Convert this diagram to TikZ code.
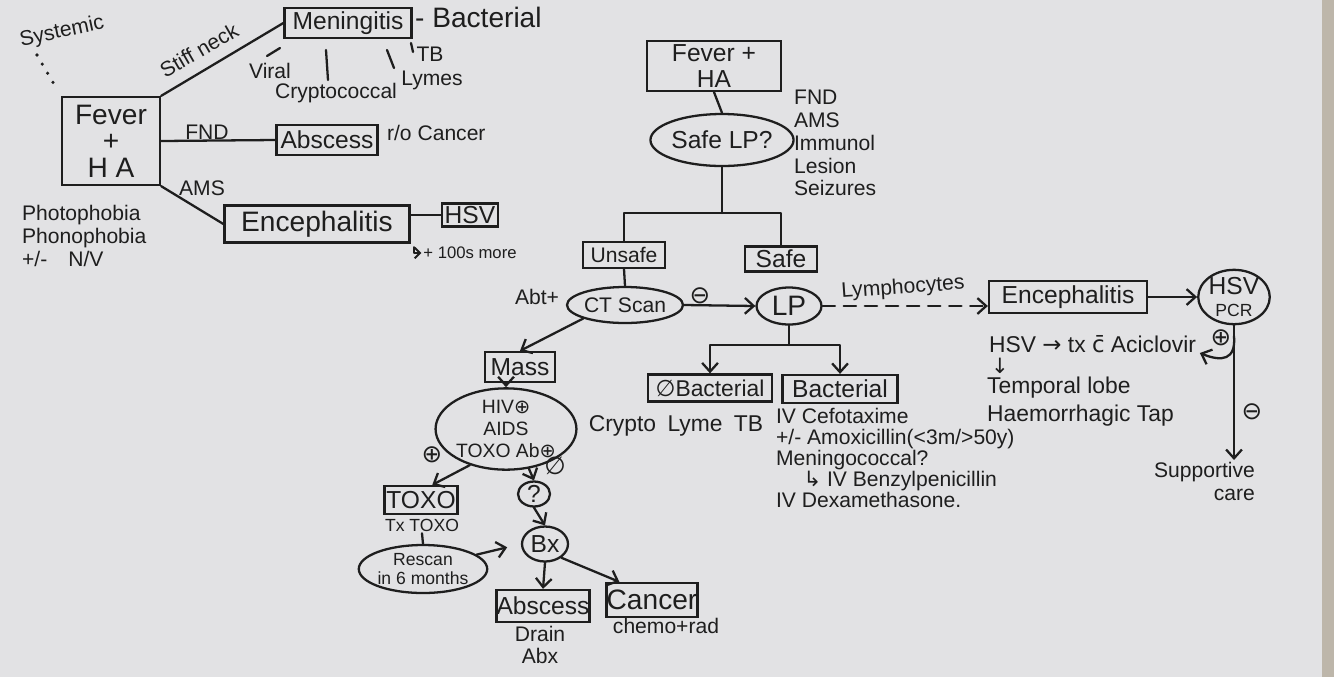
\documentclass[tikz,border=0pt]{standalone}
\usepackage{fontspec}
\setmainfont{Liberation Sans}
\newfontfamily\sym{DejaVu Sans}
\usetikzlibrary{shapes.geometric,arrows.meta,calc}
\definecolor{board}{HTML}{E2E2E4}
\definecolor{ink}{HTML}{1E1E1E}
\definecolor{edgestrip}{HTML}{BDB6AA}
\begin{document}
\begin{tikzpicture}[x=0.02cm,y=-0.02cm,
  every node/.style={text=ink, inner sep=1pt},
  ln/.style={draw=ink, line width=1.3pt, line cap=round, line join=round},
  arr/.style={ln, -{Straight Barb[length=5pt,width=9pt,line width=1.3pt]}},
  smallarr/.style={ln, -{Straight Barb[length=3pt,width=6pt,line width=1.1pt]}},
  boxn/.style={draw=ink, line width=1.3pt, rectangle, inner sep=0pt, align=center},
  ovaln/.style={draw=ink, line width=1.3pt, ellipse, inner sep=0pt, align=center},
  fbig/.style={font=\fontsize{16}{15}\selectfont},
  fmid/.style={font=\fontsize{14}{15}\selectfont},
  fsm/.style={font=\fontsize{12}{13}\selectfont},
  fxs/.style={font=\fontsize{10}{11}\selectfont},
]
\useasboundingbox (0,0) rectangle (1334,677);
\fill[board] (0,0) rectangle (1334,677);
\fill[edgestrip] (1322,0) rectangle (1334,677);

% ---------------- left mind map ----------------
\node[boxn,fbig,minimum width=1.96cm,minimum height=1.76cm] (feverL) at (111,141) {Fever\\+\\H A};
\node[fsm,rotate=12] (systemic) at (62,32) {Systemic};
\coordinate (d1) at (37,55);
\draw[ln, line width=2pt, dash pattern=on 0pt off 6pt, shorten >=6pt] (d1) -- (feverL.north west);

\node[boxn,fmid,minimum width=2.54cm,minimum height=0.6cm] (mening) at (348,23) {Meningitis};
\node[fbig,anchor=west] (bactL) at (413,17) {- Bacterial};
\draw[ln] (feverL.north east) -- (mening.west);
\node[fsm,rotate=30,inner sep=0pt] (stiff) at (199,50) {Stiff neck};

\node[fsm] (viral) at (270,71) {Viral};
\node[fsm] (crypto) at (336,93) {Cryptococcal};
\node[fsm] (lymes) at (432,80) {Lymes};
\node[fsm] (tb) at (430,54) {TB};
\coordinate (s1a) at (267,56); \coordinate (s1b) at (280,48);
\coordinate (s2a) at (326,50); \coordinate (s2b) at (328,80);
\coordinate (s3a) at (387,50); \coordinate (s3b) at (394,68);
\coordinate (s4a) at (411,43); \coordinate (s4b) at (413,52);
\draw[ln] (s1a) -- (s1b);
\draw[ln] (s2a) -- (s2b);
\draw[ln] (s3a) -- (s3b);
\draw[ln] (s4a) -- (s4b);

\node[boxn,fmid,minimum width=2.02cm,minimum height=0.6cm] (abscL) at (327,140) {Abscess};
\node[fsm,anchor=west] (roc) at (385,133) {r/o Cancer};
\node[fsm] (fnd) at (207,132) {FND};
\draw[ln] (feverL.east) -- (abscL.west);

\node[boxn,fbig,minimum width=3.7cm,minimum height=0.74cm] (encL) at (317,224) {Encephalitis};
\node[boxn,fmid,minimum width=1.12cm,minimum height=0.46cm] (hsvL) at (470,215) {HSV};
\node[fsm] (ams) at (202,188) {AMS};
\draw[ln] (feverL.south east) -- (encL.west);
\draw[ln] (encL.east |- hsvL.west) -- (hsvL.west);
\node[font=\fontsize{9.5}{10}\selectfont] (more) at (470,253) {+ 100s more};
\draw[smallarr] ([xshift=2pt,yshift=-2pt]encL.south east) |- (more.west);

\node[fsm,anchor=north west,align=left] (phot) at (20,203) {Photophobia\\Phonophobia\\+/-\quad N/V};

% ---------------- right algorithm ----------------
\node[boxn,fmid,minimum width=2.68cm,minimum height=1.0cm] (feverR) at (714,66) {Fever +\\HA};
\node[ovaln,fmid,minimum width=2.32cm,minimum height=1.04cm] (safelp) at (722,140) {Safe LP?};
\node[fsm,anchor=north west,align=left] (crit) at (792,88) {FND\\AMS\\Immunol\\Lesion\\Seizures};
\draw[ln] (feverR.south) -- (safelp.north);
\coordinate (j1) at (safelp.south |- 0,213);
\node[boxn,fsm,minimum width=1.64cm,minimum height=0.52cm] (unsafe) at (624,255) {Unsafe};
\node[boxn,fmid,minimum width=1.44cm,minimum height=0.5cm] (safe) at (781,259) {Safe};
\draw[ln] (safelp.south) -- (j1);
\draw[ln] (j1) -| (unsafe.north);
\draw[ln] (j1) -| (safe.north);

\node[ovaln,fsm,minimum width=2.0cm,minimum height=0.72cm] (ct) at (625,305) {CT Scan};
\node[fsm] (abt) at (537,297) {Abt+};
\draw[ln] (unsafe.south) -- (ct.north);
\node[ovaln,fbig,minimum width=1.3cm,minimum height=0.74cm] (lp) at (789,306) {LP};
\draw[arr] (ct.east) -- (lp.west);
\node[fmid] (ctneg) at (700,296) {\sym ⊖};

\node[fsm,rotate=4] (lymph) at (903,288) {Lymphocytes};
\node[boxn,fmid,minimum width=3.16cm,minimum height=0.64cm] (encR) at (1068,297) {Encephalitis};
\draw[arr,dash pattern=on 7pt off 5pt] (lp.east) -- (lp.east -| encR.west);
\node[ovaln,minimum width=1.36cm,minimum height=0.94cm] (pcr) at (1234,297) {{\fontsize{14}{13}\selectfont HSV}\\{\fontsize{10}{10}\selectfont PCR}};
\draw[arr] (encR.east) -- (pcr.west);
\node[fsm,align=right,anchor=north east] (supp) at (1257,460) {Supportive\\care};
\draw[arr] (pcr.south) -- (pcr.south |- supp.north);
\node[fmid] (pcrneg) at (1252,412) {\sym ⊖};
\node[fmid] (pcrpos) at (1221,338) {\sym ⊕};
\node[font=\fontsize{13}{14}\selectfont,anchor=west] (acic) at (987,344) {HSV {\sym →} tx {\sym c̄} Aciclovir};
\coordinate (pa) at (1234,336);
\coordinate (pend) at ([xshift=1pt,yshift=1pt]acic.south east);
\draw[arr] (pa) .. controls (1236,360) and (1222,362) .. (pend);
\node[fsm] (darr) at (1000,366) {\sym ↓};
\node[font=\fontsize{13}{14}\selectfont,anchor=west] (tl) at (985,388) {Temporal lobe};
\node[font=\fontsize{13}{14}\selectfont,anchor=west] (ht) at (985,416) {Haemorrhagic Tap};

% LP branches
\coordinate (j2) at (lp.south |- 0,345);
\draw[ln] (lp.south) -- (j2);
\node[boxn,font=\fontsize{13}{14}\selectfont,minimum width=2.48cm,minimum height=0.54cm] (nobact) at (710,388) {{\sym ∅}Bacterial};
\node[boxn,fmid,minimum width=2.3cm,minimum height=0.56cm] (bact) at (840,389) {Bacterial};
\draw[arr] (j2) -| (nobact.north);
\draw[arr] (j2) -| (bact.north);
\node[font=\fontsize{13}{14}\selectfont] (clt) at (676,426) {Crypto\enspace Lyme\enspace TB};
\node[fsm,anchor=north west,align=left,font=\fontsize{12}{12}\selectfont] (tx) at (774,406) {IV Cefotaxime\\+/- Amoxicillin(<3m/>50y)\\Meningococcal?\\\hspace{1.3em}{\sym ↳} IV Benzylpenicillin\\IV Dexamethasone.};

% unsafe branch
\node[boxn,fmid,minimum width=1.4cm,minimum height=0.6cm] (mass) at (520,367) {Mass};
\draw[arr] (ct.south west) -- (mass.north);
\node[ovaln,font=\fontsize{11}{12.5}\selectfont,minimum width=1.96cm,minimum height=1.44cm] (hiv) at (506,429) {HIV{\sym ⊕}\\AIDS\\TOXO Ab{\sym ⊕}};
\draw[arr] (hiv.north |- mass.south) -- (hiv.north);
\node[ovaln,fmid,minimum width=0.64cm,minimum height=0.5cm] (q) at (534,494) {?};
\node[boxn,fmid,minimum width=1.46cm,minimum height=0.56cm] (toxo) at (421,500) {TOXO};
\node[fxs] (txtoxo) at (422,525) {Tx TOXO};
\node[ovaln,fxs,minimum width=2.26cm,minimum height=0.96cm] (rescan) at (423,569) {Rescan\\in 6 months};
\draw[ln] (txtoxo.south) -- (rescan.north);
\node[ovaln,fmid,minimum width=0.92cm,minimum height=0.7cm] (bx) at (545,544) {Bx};
\draw[arr] (hiv.-60) -- (q.north);
\draw[arr] (hiv.-135) -- ($(toxo.north)!0.3!(toxo.north east)$);
\node[fmid] (hivpos) at (432,455) {\sym ⊕};
\node[fmid] (hivneg) at (555,466) {\sym ∅};
\draw[arr] (q.south) -- (bx.north);
\draw[arr,shorten >=8pt] (rescan.15) -- (bx.west);
\node[boxn,fmid,minimum width=1.8cm,minimum height=0.64cm] (abscB) at (543,606) {Abscess};
\node[boxn,fbig,minimum width=1.82cm,minimum height=0.68cm] (cancer) at (652,600) {Cancer};
\draw[arr] (bx.south) -- (abscB.north);
\draw[arr] (bx.-40) -- ($(cancer.north west)!0.15!(cancer.north east)$);
\node[fsm,align=center] (drain) at (540,645) {Drain\\Abx};
\node[fsm] (chemo) at (666,626) {chemo+rad};
\end{tikzpicture}
\end{document}
